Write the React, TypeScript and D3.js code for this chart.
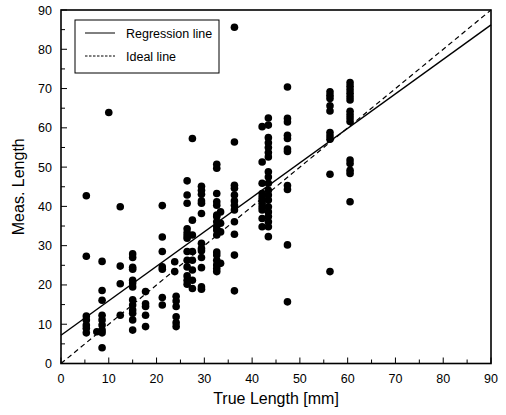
import React from "react";
import * as d3 from "d3";

const columnX = [5.3, 8.6, 7.5, 10.0, 12.4, 15.0, 17.7, 21.2, 23.8, 24.1, 26.4, 27.5, 29.4, 32.6, 33.4, 36.3, 42.1, 43.4, 47.4, 56.3, 60.5];
const columnY = [
  [42.7, 27.3, 12.1, 11.1, 9.8, 9.0, 7.8],
  [26.0, 18.6, 16.1, 12.3, 11.1, 9.8, 8.5, 7.8, 4.0],
  [8.1],
  [63.9],
  [39.9, 24.8, 20.3, 12.3],
  [27.9, 27.0, 24.5, 24.0, 21.2, 20.5, 19.5, 16.2, 14.9, 13.6, 12.8, 11.1, 8.5],
  [18.3, 15.2, 14.5, 12.3, 9.4],
  [40.2, 32.2, 28.5, 24.6, 24.0, 16.8, 14.9],
  [25.9, 23.4],
  [17.1, 15.9, 14.5, 11.9, 10.4, 9.4],
  [46.5, 42.9, 40.8, 34.3, 33.3, 32.5, 31.9, 28.5, 26.3, 24.6, 22.3, 21.2, 20.2],
  [57.3, 36.5, 32.7, 28.5, 26.3, 23.8, 21.2, 19.1],
  [45.1, 44.1, 43.1, 41.4, 40.8, 38.2, 30.6, 29.3, 28.7, 27.0, 24.4, 19.5, 18.9],
  [50.7, 49.7, 43.3, 41.2, 40.3, 37.8, 37.4, 36.1, 34.8, 34.0, 32.7, 28.4, 27.6, 26.3, 25.1, 24.2, 23.4],
  [38.6, 35.7, 33.5, 25.5],
  [85.6, 56.4, 45.4, 44.6, 42.9, 41.4, 40.3, 39.1, 36.1, 32.9, 27.6, 18.5],
  [60.3, 51.3, 45.9, 43.3, 42.4, 41.6, 40.8, 39.9, 39.1, 36.9, 34.8],
  [62.5, 60.7, 57.5, 56.2, 55.0, 53.7, 52.6, 48.8, 47.5, 45.9, 44.1, 42.9, 41.6, 39.9, 38.6, 37.4, 36.1, 34.8, 32.3],
  [70.4, 62.4, 61.5, 58.1, 57.3, 54.6, 54.0, 45.3, 44.3, 30.2, 15.7],
  [69.2, 68.3, 67.5, 65.6, 64.3, 58.8, 57.9, 57.1, 48.2, 23.4],
  [71.5, 70.6, 69.7, 68.8, 67.9, 67.1, 64.2, 63.3, 62.5, 61.6, 51.8, 50.9, 49.2, 48.4, 41.2],
];

const xTicks = [0, 10, 20, 30, 40, 50, 60, 70, 80, 90];
const yTicks = [0, 10, 20, 30, 40, 50, 60, 70, 80, 90];
const regressionLine = [[0, 7.2], [90, 86.2]];
const idealLine = [[0, 0], [90, 90]];
const legendLabels = ["Regression line", "Ideal line"];
const xTitle = "True Length [mm]";
const yTitle = "Meas. Length";

export default function App() {
  const L = 61, R = 491, T = 10, B = 363.5;
  const x = d3.scaleLinear().domain([0, 90]).range([L, R]);
  const y = d3.scaleLinear().domain([0, 90]).range([B, T]);
  const line = d3.line<number[]>().x((d) => x(d[0])).y((d) => y(d[1]));
  const points: [number, number][] = [];
  columnX.forEach((cx, i) => columnY[i].forEach((v) => points.push([cx, v])));
  const minor = d3.range(0, 91, 5);
  const font = "Liberation Sans, Arial, sans-serif";
  return (
    <svg width={506} height={415} style={{ position: "absolute", left: 0, top: 0, background: "#fff" }} fontFamily={font}>
      <rect x={0} y={0} width={506} height={415} fill="#fff" />
      {points.map((p, i) => (
        <circle key={i} cx={x(p[0])} cy={y(p[1])} r={3.8} fill="#000" />
      ))}
      <path d={line(regressionLine as any) || ""} stroke="#000" strokeWidth={1.4} fill="none" />
      <path d={line(idealLine as any) || ""} stroke="#000" strokeWidth={1.2} strokeDasharray="5,3.5" fill="none" />
      <rect x={L} y={T} width={R - L} height={B - T} fill="none" stroke="#000" strokeWidth={1.6} />
      {minor.map((t) => (
        <g key={"t" + t}>
          <line x1={x(t)} x2={x(t)} y1={B} y2={B - (t % 10 === 0 ? 6 : 4)} stroke="#000" strokeWidth={1} />
          <line x1={L} x2={L + (t % 10 === 0 ? 6 : 4)} y1={y(t)} y2={y(t)} stroke="#000" strokeWidth={1} />
        </g>
      ))}
      {xTicks.map((t) => (
        <text key={"xl" + t} x={x(t)} y={383} textAnchor="middle" fontSize={12.5} fill="#000">{t}</text>
      ))}
      {yTicks.map((t) => (
        <text key={"yl" + t} x={52} y={y(t) + 4.5} textAnchor="end" fontSize={12.5} fill="#000">{t}</text>
      ))}
      <text x={276} y={404} textAnchor="middle" fontSize={16} fill="#000">{xTitle}</text>
      <text transform={`translate(24,${(T + B) / 2}) rotate(-90)`} textAnchor="middle" fontSize={16} fill="#000">{yTitle}</text>
      <rect x={75} y={20} width={144} height={53} fill="#fff" stroke="#000" strokeWidth={1} />
      <line x1={85} x2={115} y1={33} y2={33} stroke="#000" strokeWidth={1} />
      <line x1={85} x2={115} y1={56} y2={56} stroke="#000" strokeWidth={1} strokeDasharray="2.5,1.5" />
      <text x={126} y={37.5} fontSize={12.5} fill="#000">{legendLabels[0]}</text>
      <text x={126} y={60.5} fontSize={12.5} fill="#000">{legendLabels[1]}</text>
    </svg>
  );
}
